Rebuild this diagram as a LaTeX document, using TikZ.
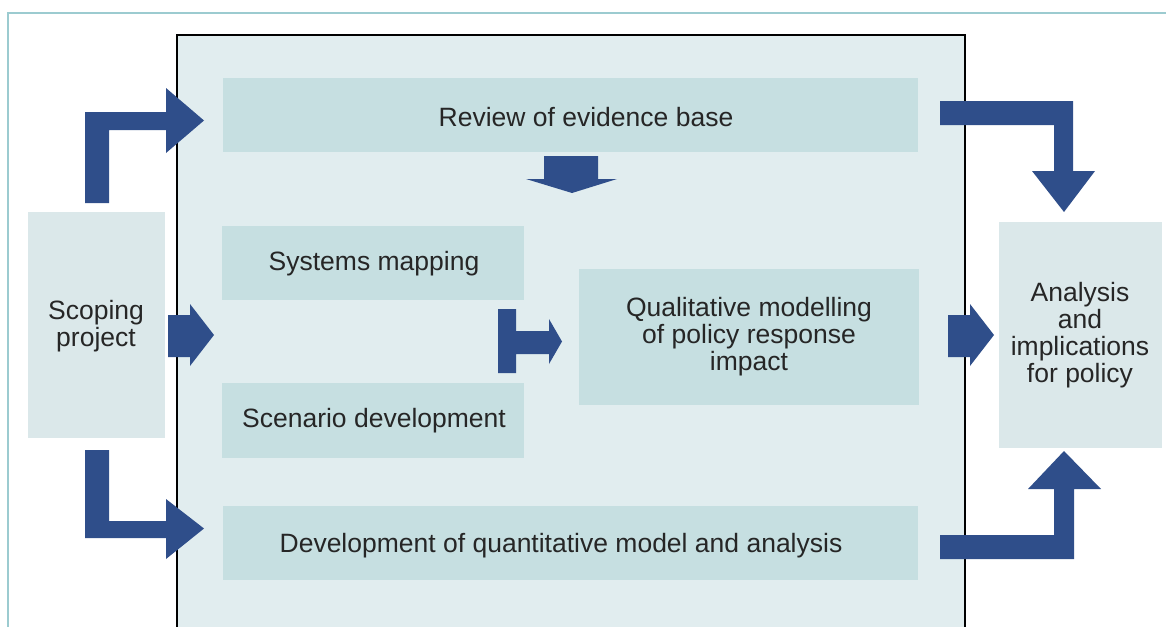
\documentclass[tikz,border=0pt]{standalone}
\usepackage{fontspec}
\setmainfont{Liberation Sans}
\definecolor{frameteal}{HTML}{9CCBD0}
\definecolor{bigfill}{HTML}{E1EDEF}
\definecolor{innerfill}{HTML}{C6DFE1}
\definecolor{sidefill}{HTML}{DBE8EA}
\definecolor{arrowblue}{HTML}{2F4E8A}
\begin{document}
\begin{tikzpicture}[x=1pt,y=-1pt,
  innerbox/.style={fill=innerfill,draw=none,inner sep=0,outer sep=0},
  sidebox/.style={fill=sidefill,draw=none,inner sep=0,outer sep=0},
  lbl/.style={font=\fontsize{26.5}{27}\selectfont,text=black!85,align=center,inner sep=0},
  blockarrow/.style={fill=arrowblue,draw=none}]
\useasboundingbox (0,0) rectangle (1166,626);
% outer teal frame
\draw[frameteal,line width=1.5pt] (8,640) -- (8,13) -- (1170,13);
% big process box
\draw[fill=bigfill,draw=black,line width=2pt] (177,35) rectangle (965,650);
% boxes
\node[innerbox,minimum width=695,minimum height=74] (review) at (570.5,115) {};
\node[innerbox,minimum width=302,minimum height=74] (systems) at (373,263) {};
\node[innerbox,minimum width=302,minimum height=75] (scenario) at (373,420.5) {};
\node[innerbox,minimum width=340,minimum height=136] (qual) at (749,337) {};
\node[innerbox,minimum width=695,minimum height=74] (devel) at (570.5,543) {};
\node[sidebox,minimum width=137,minimum height=226] (scoping) at (96.5,325) {};
\node[sidebox,minimum width=163,minimum height=226] (analysis) at (1080.5,335) {};
% labels
\node[lbl] (reviewt) at (586,117.5) {Review of evidence base};
\node[lbl] (systemst) at (374,263.5) {Systems mapping};
\node[lbl] (scenariot) at (374,420.5) {Scenario development};
\node[lbl] (qualt) at (749,336.5) {Qualitative modelling\\of policy response\\impact};
\node[lbl] (develt) at (561,545.5) {Development of quantitative model and analysis};
\node[lbl] (scopingt) at (96,326.5) {Scoping\\project};
\node[lbl] (analysist) at (1080,335.5) {Analysis\\and\\implications\\for policy};
% block arrows
\fill[blockarrow] (85,203) -- (85,112) -- (166,112) -- (166,88) -- (204,120.5) -- (166,153) -- (166,130) -- (109,130) -- (109,203) -- cycle;
\fill[blockarrow] (85,450) -- (109,450) -- (109,521) -- (166,521) -- (166,499) -- (204,528.5) -- (166,559) -- (166,538) -- (85,538) -- cycle;
\fill[blockarrow] (168,315) -- (190,315) -- (190,304) -- (214,335) -- (190,366) -- (190,357) -- (168,357) -- cycle;
\fill[blockarrow] (544,156) -- (598,156) -- (598,179) -- (617,179) -- (572,193) -- (526,179) -- (544,179) -- cycle;
\fill[blockarrow] (498,309) -- (516,309) -- (516,331) -- (549,331) -- (549,319) -- (562,341.5) -- (549,364) -- (549,354) -- (516,354) -- (516,373) -- (498,373) -- cycle;
\fill[blockarrow] (948,315) -- (970,315) -- (970,304) -- (994,335) -- (970,366) -- (970,357) -- (948,357) -- cycle;
\fill[blockarrow] (940,101) -- (1073,101) -- (1073,171) -- (1095,171) -- (1064,212) -- (1032,171) -- (1054,171) -- (1054,125) -- (940,125) -- cycle;
\fill[blockarrow] (940,559) -- (940,535) -- (1054,535) -- (1054,489) -- (1028,489) -- (1064,451) -- (1101,489) -- (1074,489) -- (1074,559) -- cycle;
\end{tikzpicture}
\end{document}
